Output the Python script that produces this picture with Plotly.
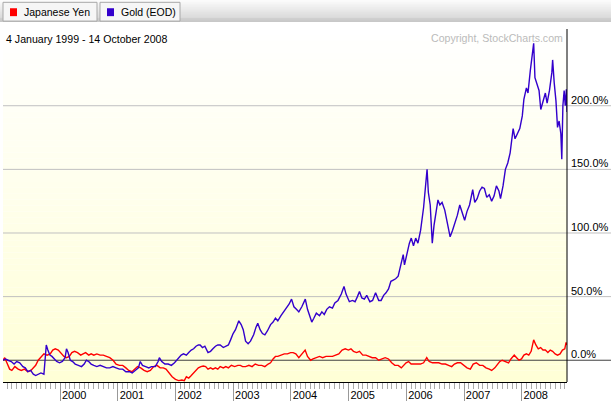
import plotly.graph_objects as go

# ---------------- data ----------------
gold_dates = [
"1999-01-04","1999-01-20","1999-02-05","1999-02-25","1999-03-15","1999-04-01","1999-04-20","1999-05-10","1999-05-25","1999-06-10",
"1999-06-28","1999-07-15","1999-07-30","1999-08-15","1999-09-01","1999-09-20","1999-09-28","1999-10-05","1999-10-15","1999-10-28",
"1999-11-10","1999-11-25","1999-12-10","1999-12-28","2000-01-15","2000-02-01","2000-02-10","2000-02-20","2000-03-05","2000-03-20",
"2000-04-05","2000-04-25","2000-05-15","2000-06-01","2000-06-15","2000-06-30","2000-07-15","2000-08-01","2000-08-20","2000-09-10",
"2000-09-30","2000-10-20","2000-11-10","2000-11-30","2000-12-20","2001-01-10","2001-01-31","2001-02-20","2001-03-15","2001-04-01",
"2001-04-20","2001-05-10","2001-05-22","2001-06-05","2001-06-25","2001-07-15","2001-08-01","2001-08-25","2001-09-12","2001-09-20",
"2001-10-05","2001-10-25","2001-11-15","2001-12-05","2001-12-25","2002-01-10","2002-01-25","2002-02-05","2002-02-20","2002-03-10",
"2002-03-25","2002-04-10","2002-04-25","2002-05-10","2002-05-25","2002-06-05","2002-06-20","2002-07-05","2002-07-25","2002-08-10",
"2002-08-25","2002-09-10","2002-09-25","2002-10-10","2002-10-30","2002-11-15","2002-12-01","2002-12-15","2002-12-31","2003-01-15",
"2003-02-05","2003-02-20","2003-03-05","2003-03-20","2003-04-05","2003-04-20","2003-05-10","2003-05-25","2003-06-05","2003-06-20",
"2003-07-05","2003-07-20","2003-08-05","2003-08-25","2003-09-10","2003-09-25","2003-10-10","2003-10-30","2003-11-15","2003-12-05",
"2003-12-20","2004-01-05","2004-01-20","2004-02-05","2004-02-20","2004-03-10","2004-04-01","2004-04-15","2004-05-01","2004-05-12",
"2004-05-25","2004-06-10","2004-06-30","2004-07-15","2004-07-30","2004-08-15","2004-09-01","2004-09-20","2004-10-05","2004-10-25",
"2004-11-15","2004-12-02","2004-12-15","2005-01-05","2005-01-25","2005-02-10","2005-02-25","2005-03-10","2005-03-25","2005-04-10",
"2005-04-25","2005-05-15","2005-06-01","2005-06-20","2005-07-10","2005-07-25","2005-08-10","2005-08-25","2005-09-10","2005-09-25",
"2005-10-10","2005-10-25","2005-11-10","2005-11-25","2005-12-12","2005-12-20","2006-01-05","2006-01-20","2006-02-01","2006-02-15",
"2006-03-01","2006-03-15","2006-04-01","2006-04-20","2006-05-12","2006-05-20","2006-06-01","2006-06-14","2006-06-25","2006-07-10",
"2006-07-20","2006-08-01","2006-08-15","2006-09-01","2006-09-15","2006-10-05","2006-10-20","2006-11-05","2006-11-20","2006-12-05",
"2006-12-20","2007-01-05","2007-01-20","2007-02-05","2007-02-25","2007-03-10","2007-03-25","2007-04-10","2007-04-25","2007-05-10",
"2007-05-25","2007-06-10","2007-06-25","2007-07-10","2007-07-25","2007-08-10","2007-08-20","2007-09-05","2007-09-20","2007-10-05",
"2007-10-20","2007-11-01","2007-11-08","2007-11-20","2007-12-05","2007-12-20","2008-01-05","2008-01-15","2008-01-31","2008-02-10",
"2008-02-25","2008-03-10","2008-03-17","2008-03-25","2008-04-05","2008-04-20","2008-05-01","2008-05-15","2008-05-30","2008-06-10",
"2008-06-25","2008-07-10","2008-07-15","2008-07-25","2008-08-05","2008-08-15","2008-08-25","2008-09-05","2008-09-11","2008-09-18",
"2008-09-26","2008-10-03","2008-10-10","2008-10-14"]
gold_pct = [
0,1,0,-1,-3,-1,-2,-5,-6,-9,
-8,-11,-12,-11,-10,-11,5,12,8,4,
3,1,-1,-2,-1,2,9,6,0,-1,
-3,-4,-5,-3,0,-1,-3,-4,-5,-4,
-5,-6,-6,-5,-6,-7,-7,-9,-9,-10,
-8,-6,-1,-4,-5,-6,-5,-5,-1,2,
-1,-3,-3,-4,-2,0,2,4,5,4,
6,8,9,11,12,12,10,11,6,7,
9,11,12,12,10,11,12,16,21,24,
31,28,24,15,13,15,20,26,29,24,
21,20,23,28,30,33,31,35,38,41,
44,48,42,40,38,42,48,40,35,30,
33,37,35,38,36,40,42,41,45,47,
52,58,52,46,47,46,50,54,49,48,
51,46,47,53,47,47,51,53,56,62,
63,64,66,73,83,75,85,92,96,90,
96,92,102,120,150,132,122,92,106,118,
126,122,124,118,108,97,102,108,114,122,
116,110,117,122,134,124,127,133,136,135,
128,130,125,129,137,133,127,137,150,155,
163,173,182,174,178,182,192,205,214,210,
228,240,249,222,218,212,197,203,210,202,
212,226,236,218,204,183,188,178,158,200,
212,200,213,195]

yen_dates = [
"1999-01-04","1999-01-15","1999-02-01","1999-02-15","1999-03-01","1999-03-20","1999-04-10","1999-04-30","1999-05-20","1999-06-10",
"1999-06-30","1999-07-15","1999-07-30","1999-08-15","1999-09-01","1999-09-20","1999-10-10","1999-10-30","1999-11-15","1999-12-01",
"1999-12-20","2000-01-10","2000-01-25","2000-02-10","2000-02-28","2000-03-15","2000-04-01","2000-04-20","2000-05-10","2000-05-25",
"2000-06-10","2000-06-30","2000-07-15","2000-08-01","2000-08-20","2000-09-10","2000-09-30","2000-10-20","2000-11-10","2000-12-01",
"2000-12-20","2001-01-10","2001-01-31","2001-02-20","2001-03-10","2001-03-30","2001-04-15","2001-05-05","2001-05-25","2001-06-15",
"2001-07-05","2001-07-25","2001-08-15","2001-09-05","2001-09-25","2001-10-15","2001-11-01","2001-11-20","2001-12-10","2001-12-31",
"2002-01-20","2002-02-10","2002-02-25","2002-03-10","2002-03-25","2002-04-10","2002-04-25","2002-05-10","2002-05-25","2002-06-10",
"2002-06-25","2002-07-10","2002-07-25","2002-08-10","2002-08-25","2002-09-10","2002-09-25","2002-10-10","2002-10-30","2002-11-15",
"2002-12-01","2002-12-20","2003-01-10","2003-01-30","2003-02-15","2003-03-01","2003-03-20","2003-04-10","2003-04-30","2003-05-20",
"2003-06-10","2003-06-30","2003-07-20","2003-08-10","2003-08-25","2003-09-10","2003-09-25","2003-10-10","2003-10-30","2003-11-20",
"2003-12-10","2003-12-30","2004-01-15","2004-02-01","2004-02-20","2004-03-10","2004-03-31","2004-04-15","2004-05-05","2004-05-20",
"2004-06-10","2004-06-30","2004-07-20","2004-08-10","2004-08-30","2004-09-20","2004-10-10","2004-10-30","2004-11-20","2004-12-10",
"2004-12-30","2005-01-15","2005-01-31","2005-02-20","2005-03-10","2005-03-31","2005-04-20","2005-05-10","2005-05-30","2005-06-20",
"2005-07-10","2005-07-31","2005-08-20","2005-09-10","2005-09-30","2005-10-20","2005-11-10","2005-11-30","2005-12-15","2005-12-30",
"2006-01-15","2006-01-31","2006-02-20","2006-03-10","2006-03-31","2006-04-20","2006-05-10","2006-05-25","2006-06-15","2006-07-05",
"2006-07-25","2006-08-15","2006-09-05","2006-09-25","2006-10-15","2006-11-01","2006-11-20","2006-12-10","2006-12-30","2007-01-20",
"2007-02-10","2007-02-28","2007-03-20","2007-04-10","2007-04-30","2007-05-20","2007-06-10","2007-06-25","2007-07-15","2007-07-31",
"2007-08-15","2007-08-31","2007-09-20","2007-10-10","2007-10-25","2007-11-15","2007-11-30","2007-12-15","2007-12-31","2008-01-15",
"2008-01-31","2008-02-15","2008-03-01","2008-03-17","2008-03-31","2008-04-15","2008-04-30","2008-05-15","2008-05-30","2008-06-15",
"2008-06-30","2008-07-15","2008-07-31","2008-08-15","2008-08-31","2008-09-15","2008-09-30","2008-10-08","2008-10-14"]
yen_pct = [
0,2,-3,-7,-8,-5,-7,-8,-7,-9,
-8,-6,-4,0,2,5,4,5,8,9,
8,5,3,2,3,6,7,6,4,5,
6,4,5,4,5,4,4,3,2,0,
-3,-4,-4,-6,-8,-9,-7,-5,-6,-8,
-9,-8,-5,-4,-6,-6,-7,-10,-13,-15,
-16,-15.5,-16,-13,-14,-12,-10,-8,-6,-5,
-4.5,-5,-7,-6,-7,-6,-7,-5,-6,-5,
-6,-4,-5,-4,-4,-5,-5,-4,-5,-3,
-4,-4,-5,-3,-2,1,3,3,4,5,
5,6,6,5,2,5,8,3,0,1,
2,3,2,3,3,3,4,5,8,9,
8,9,7,6,7,4,4,3,2,2,
0,1,2,1,-2,-4,-4,-6,-4,-2,
-1,-3,-3,-3,-3,-2,2,-1,-2,-2,
-2,-3,-3,-4,-5,-3,-2,-2,-4,-6,
-7,-3,-2,-4,-4,-6,-7,-8,-6,-3,
-1,0,-1,-2,1,4,2,0,1,4,
5,4,7,16,12,9,10,8,8,6,
8,7,5,4,5,8,9,14,12]

series_names = ["Japanese Yen", "Gold (EOD)"]
series_colors = ["#FF0000", "#3300CC"]
y_ticks = [0, 50, 100, 150, 200]
x_tick_years = ["2000-01-01","2001-01-01","2002-01-01","2003-01-01","2004-01-01",
                "2005-01-01","2006-01-01","2007-01-01","2008-01-01"]
date_range_text = "4 January 1999 - 14 October 2008"
copyright_text = "Copyright, StockCharts.com"

# ---------------- layout geometry (pixels) ----------------
W, H = 611, 404
ML, MR, MT, MB = 3, 44, 29, 18
PW, PH = W - ML - MR, H - MT - MB


def px(X):
    return (X - ML) / PW


def py(Y):
    return (H - MB - Y) / PH


FONT = "Liberation Sans, Arial, sans-serif"

fig = go.Figure()
fig.add_trace(go.Scatter(x=yen_dates, y=yen_pct, mode="lines", name=series_names[0],
                         line=dict(color=series_colors[0], width=1.4), hoverinfo="skip"))
fig.add_trace(go.Scatter(x=gold_dates, y=gold_pct, mode="lines", name=series_names[1],
                         line=dict(color=series_colors[1], width=1.4), hoverinfo="skip"))

shapes = []
# plot background gradient (white -> pale yellow)
N = 60
for i in range(N):
    t = (i + 0.5) / N
    r, g, b = 255, 255, int(round(255 - (255 - 214) * t))
    shapes.append(dict(type="rect", xref="paper", yref="paper", x0=0, x1=1,
                       y0=1 - (i + 1) / N, y1=1 - i / N, fillcolor=f"rgb({r},{g},{b})",
                       line=dict(width=0), layer="below"))
# header bar gradient
NB = 22
for i in range(NB):
    t = i / (NB - 1)
    c = int(round(250 - (250 - 200) * t))
    shapes.append(dict(type="rect", xref="paper", yref="paper", x0=px(0), x1=px(W),
                       y0=py(i + 1), y1=py(i), fillcolor=f"rgb({c},{c},{c})",
                       line=dict(width=0), layer="below"))
# tabs
for (x0, x1) in [(3, 97), (100, 180)]:
    shapes.append(dict(type="rect", xref="paper", yref="paper", x0=px(x0), x1=px(x1),
                       y0=py(21), y1=py(2), fillcolor="#F6F6F6",
                       line=dict(color="#A8A8A8", width=1)))
# legend squares
for (x0, col) in [(10, series_colors[0]), (107, series_colors[1])]:
    shapes.append(dict(type="rect", xref="paper", yref="paper", x0=px(x0), x1=px(x0 + 7),
                       y0=py(16), y1=py(8), fillcolor=col, line=dict(width=0)))
# horizontal gridlines extending under the right-hand labels
for v in y_ticks:
    shapes.append(dict(type="line", xref="paper", yref="y", x0=0, x1=px(W), y0=v, y1=v,
                       line=dict(color="#404040" if v == 0 else "#C0C0C0", width=1),
                       layer="below"))
# right border of plot
shapes.append(dict(type="line", xref="paper", yref="paper", x0=1, x1=1, y0=0, y1=1,
                   line=dict(color="#000000", width=1)))

annotations = [
    dict(text=series_names[0], xref="paper", yref="paper", x=px(22), y=py(12), xanchor="left",
         yanchor="middle", showarrow=False, font=dict(family=FONT, size=10.5, color="#000")),
    dict(text=series_names[1], xref="paper", yref="paper", x=px(119), y=py(12), xanchor="left",
         yanchor="middle", showarrow=False, font=dict(family=FONT, size=10.5, color="#000")),
    dict(text=date_range_text, xref="paper", yref="paper", x=px(4), y=py(39), xanchor="left",
         yanchor="middle", showarrow=False, font=dict(family=FONT, size=10.6, color="#000")),
    dict(text=copyright_text, xref="paper", yref="paper", x=px(565), y=py(38), xanchor="right",
         yanchor="middle", showarrow=False, font=dict(family=FONT, size=10.6, color="#BBBBBB")),
]
for v in y_ticks:
    annotations.append(dict(text=f"{v:.1f}%", xref="paper", yref="y", x=px(569), y=v,
                            xanchor="left", yanchor="bottom", yshift=-2, showarrow=False,
                            font=dict(family=FONT, size=11, color="#000")))

fig.update_layout(
    width=W, height=H,
    margin=dict(l=ML, r=MR, t=MT, b=MB, pad=0),
    paper_bgcolor="white", plot_bgcolor="rgba(0,0,0,0)",
    showlegend=False,
    shapes=shapes, annotations=annotations,
    xaxis=dict(type="date", range=["1999-01-04", "2008-10-14"],
               tickvals=x_tick_years, tickformat="%Y",
               ticks="outside", ticklen=18, tickcolor="#999999", tickwidth=1,
               ticklabelshift=14, ticklabelstandoff=-15,
               tickfont=dict(family=FONT, size=11, color="#000"),
               showgrid=False, zeroline=False,
               showline=True, linecolor="#000000", linewidth=1,
               minor=dict(dtick="M1", tick0="1999-02-01", ticks="outside", ticklen=6,
                          tickcolor="#AAAAAA", tickwidth=1, showgrid=False)),
    yaxis=dict(range=[-17.1, 260.3], side="right", showticklabels=False,
               showgrid=False, zeroline=False, ticks=""),
)

fig.write_html("out.html", config={"displayModeBar": False, "staticPlot": True},
               post_script="document.body.style.margin='0';document.body.style.overflow='hidden';")
